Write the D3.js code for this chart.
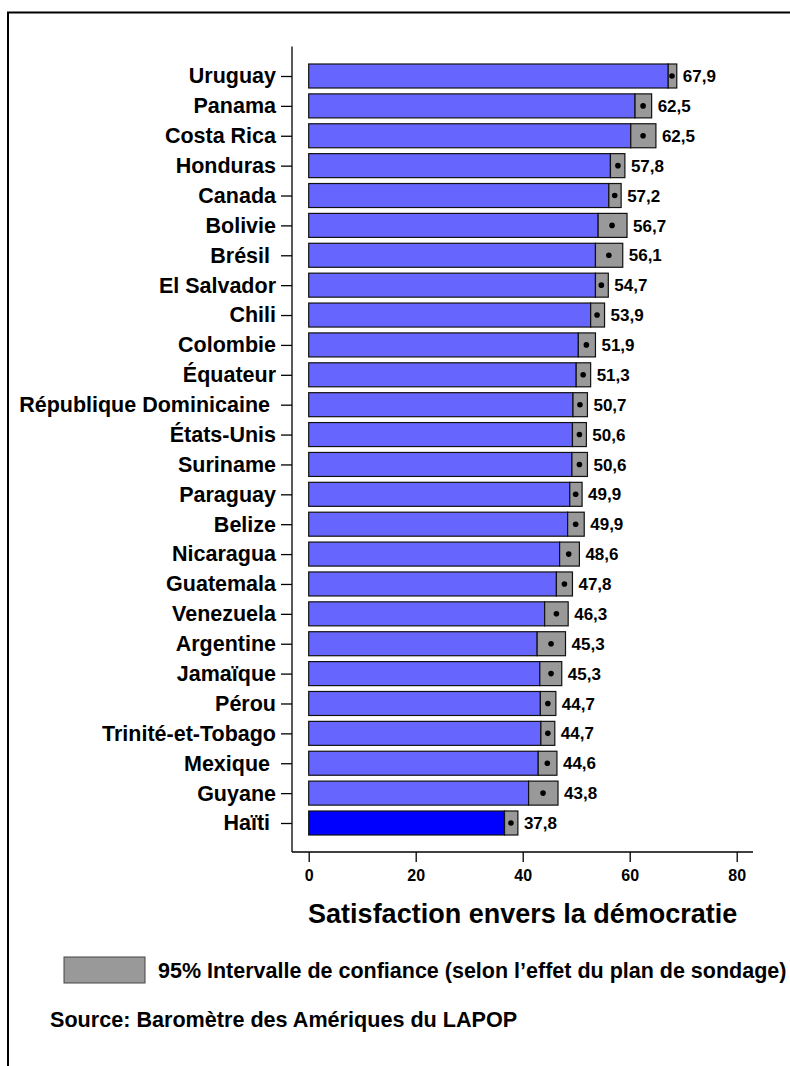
<!DOCTYPE html>
<html>
<head>
<meta charset="utf-8">
<script src="https://cdn.jsdelivr.net/npm/d3@7"></script>
<style>
  html, body { margin: 0; padding: 0; background: #fff; }
  svg text { font-family: "Liberation Sans", Arial, sans-serif; font-weight: bold; fill: #000; white-space: pre; }
</style>
</head>
<body>
<svg id="chart" width="790" height="1066"></svg>
<script>
// Satisfaction with democracy by country, with 95% confidence intervals
const countries = [
  "Uruguay", "Panama", "Costa Rica", "Honduras", "Canada", "Bolivie", "Brésil ",
  "El Salvador", "Chili", "Colombie", "Équateur", "République Dominicaine ",
  "États-Unis", "Suriname", "Paraguay", "Belize", "Nicaragua", "Guatemala",
  "Venezuela", "Argentine", "Jamaïque", "Pérou", "Trinité-et-Tobago", "Mexique ",
  "Guyane", "Haïti "
];
const means = [
  67.9, 62.5, 62.5, 57.8, 57.2, 56.7, 56.1, 54.7, 53.9, 51.9, 51.3, 50.7,
  50.6, 50.6, 49.9, 49.9, 48.6, 47.8, 46.3, 45.3, 45.3, 44.7, 44.7, 44.6,
  43.8, 37.8
];
const ciLower = [
  67.2, 61.0, 60.2, 56.4, 56.1, 54.1, 53.6, 53.6, 52.7, 50.4, 50.0, 49.4,
  49.3, 49.2, 48.8, 48.4, 46.9, 46.3, 44.1, 42.7, 43.2, 43.3, 43.4, 42.9,
  41.1, 36.6
];
const ciUpper = [
  68.8, 64.1, 64.9, 59.1, 58.4, 59.5, 58.7, 56.0, 55.3, 53.6, 52.7, 52.1,
  51.9, 52.1, 51.1, 51.5, 50.6, 49.3, 48.5, 48.0, 47.3, 46.2, 46.0, 46.4,
  46.6, 39.1
];
const highlighted = ["Haïti "];
const xTicks = [0, 20, 40, 60, 80];
const xTitle = "Satisfaction envers la démocratie";
const legendLabel = "95% Intervalle de confiance (selon l\u2019effet du plan de sondage)";
const sourceLabel = "Source: Baromètre des Amériques du LAPOP";

const rows = countries.map((c, i) => ({
  country: c, mean: means[i], lo: ciLower[i], hi: ciUpper[i]
}));

const svg = d3.select("#chart");

// outer frame
svg.append("rect")
  .attr("x", 8).attr("y", 12.5)
  .attr("width", 900).attr("height", 1200)
  .attr("fill", "none").attr("stroke", "#000").attr("stroke-width", 2);

const x = d3.scaleLinear().domain([0, 80]).range([308.7, 736.7]);
const y = d3.scalePoint().domain(countries).range([76, 823]);
const barH = 24;

const axisX = 292, axisY = 852;

// bars: solid part up to the lower bound, grey box across the interval
const g = svg.append("g");
g.selectAll("rect.bar").data(rows).join("rect")
  .attr("class", "bar")
  .attr("x", x(0))
  .attr("y", d => y(d.country) - barH / 2)
  .attr("width", d => x(d.lo) - x(0))
  .attr("height", barH)
  .attr("fill", d => highlighted.includes(d.country) ? "#0000ff" : "#6666ff")
  .attr("stroke", "#111").attr("stroke-width", 1.2);

g.selectAll("rect.ci").data(rows).join("rect")
  .attr("class", "ci")
  .attr("x", d => x(d.lo))
  .attr("y", d => y(d.country) - barH / 2)
  .attr("width", d => x(d.hi) - x(d.lo))
  .attr("height", barH)
  .attr("fill", "#999999")
  .attr("stroke", "#111").attr("stroke-width", 1.2);

g.selectAll("circle.mean").data(rows).join("circle")
  .attr("class", "mean")
  .attr("cx", d => x(d.mean))
  .attr("cy", d => y(d.country))
  .attr("r", 2.8)
  .attr("fill", "#000");

const fmt = v => d3.format(".1f")(v).replace(".", ",");
g.selectAll("text.val").data(rows).join("text")
  .attr("class", "val")
  .attr("x", d => x(d.hi) + 6)
  .attr("y", d => y(d.country))
  .attr("dy", "0.36em")
  .attr("font-size", 17)
  .text(d => fmt(d.mean));

// y axis
const yAxis = svg.append("g")
  .attr("transform", `translate(${axisX},0)`)
  .call(d3.axisLeft(y).tickSize(11).tickPadding(5));
yAxis.select(".domain").remove();
yAxis.append("line")
  .attr("x1", 0).attr("x2", 0).attr("y1", 46.5).attr("y2", axisY)
  .attr("stroke", "#000").attr("stroke-width", 1.3);
yAxis.selectAll(".tick line").attr("stroke", "#000").attr("stroke-width", 1.3);
yAxis.selectAll(".tick text")
  .attr("font-size", 21.5)
  .attr("font-family", null)
  .attr("fill", "#000");

// x axis
const xAxis = svg.append("g")
  .attr("transform", `translate(0,${axisY})`)
  .call(d3.axisBottom(x).tickValues(xTicks).tickFormat(d3.format("d")).tickSize(10).tickPadding(8));
xAxis.select(".domain").remove();
xAxis.append("line")
  .attr("x1", axisX).attr("x2", 753).attr("y1", 0).attr("y2", 0)
  .attr("stroke", "#000").attr("stroke-width", 1.3);
xAxis.selectAll(".tick line").attr("stroke", "#000").attr("stroke-width", 1.3);
xAxis.selectAll(".tick text")
  .attr("font-size", 16)
  .attr("font-family", null)
  .attr("fill", "#000");

svg.append("text")
  .attr("x", (x(0) + x(80)) / 2)
  .attr("y", 923)
  .attr("text-anchor", "middle")
  .attr("font-size", 27)
  .text(xTitle);

// legend
svg.append("rect")
  .attr("x", 64).attr("y", 957)
  .attr("width", 81).attr("height", 26)
  .attr("fill", "#999999").attr("stroke", "#444").attr("stroke-width", 1);
svg.append("text")
  .attr("x", 158).attr("y", 978)
  .attr("font-size", 21.5)
  .text(legendLabel);

svg.append("text")
  .attr("x", 50).attr("y", 1027)
  .attr("font-size", 21.6)
  .text(sourceLabel);
</script>
</body>
</html>
